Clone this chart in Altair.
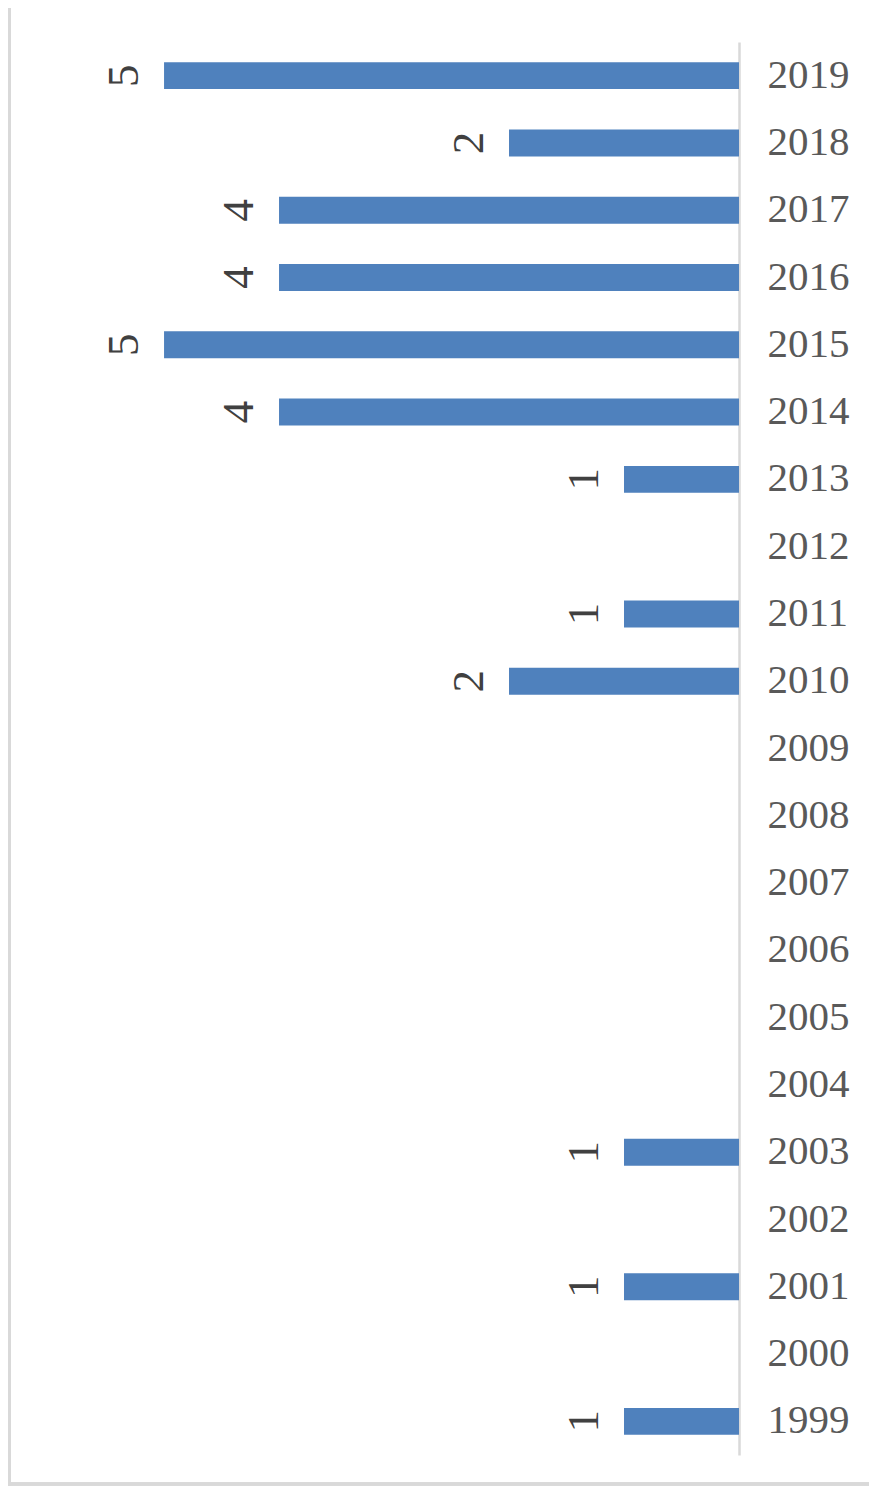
import altair as alt
import pandas as pd

years = [str(y) for y in range(1999, 2020)]
counts = [1, 0, 1, 0, 1, 0, 0, 0, 0, 0, 0, 2, 1, 0, 1, 4, 5, 4, 4, 2, 5]

df = pd.DataFrame({"year": years, "count": counts})

yenc = alt.Y(
    "year:O",
    scale=alt.Scale(domain=years[::-1], paddingInner=0.6, paddingOuter=0.3),
    axis=alt.Axis(
        orient="right", title=None, ticks=False, grid=False,
        domainColor="#d9d9d9", domainWidth=2.5,
        labelFont="Liberation Serif", labelFontSize=41, labelColor="#595959",
        labelPadding=28, labelAlign="left", labelBaseline="middle",
    ),
)
xenc = alt.X("count:Q", scale=alt.Scale(domain=[0, 6.357], reverse=True, nice=False), axis=None)

base = alt.Chart(df).transform_filter("datum.count > 0")

bars = base.mark_bar(color="#4f81bd").encode(x=xenc, y=yenc)

labels = base.mark_text(
    angle=270, dy=-40, font="Liberation Serif", fontSize=45, color="#404040",
    align="center", baseline="middle",
).encode(x=xenc, y=yenc, text="count:Q")

frame_left = alt.Chart(df).mark_rule(color="#d9d9d9", strokeWidth=3).encode(
    x=alt.value(1.5), y=alt.value(-34), y2=alt.value(1444)
)
frame_bottom = alt.Chart(df).mark_rule(color="#d9d9d9", strokeWidth=3).encode(
    x=alt.value(0), x2=alt.value(861), y=alt.value(1442)
)

chart = alt.layer(frame_left, frame_bottom, bars, labels).properties(
    width=731, height=1413,
    padding={"left": 0, "top": 34, "right": 130, "bottom": 32},
    autosize=alt.AutoSizeParams(type="none"),
    background="white",
).configure_view(stroke=None)

chart.save("out.html", embed_options={"renderer": "svg", "actions": False})
